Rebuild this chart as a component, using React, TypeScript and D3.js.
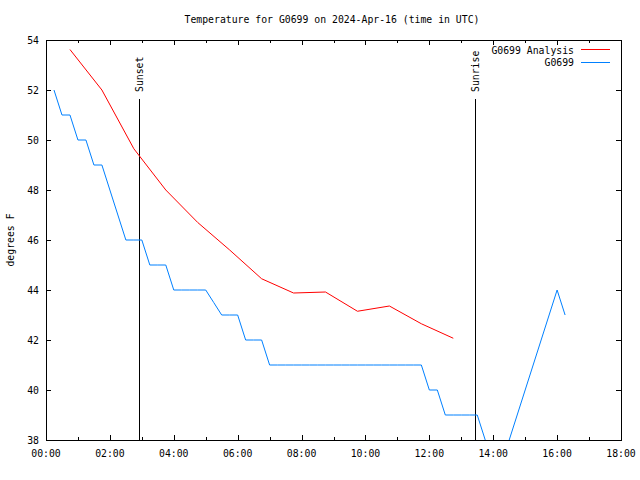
import React from "react";
import * as d3 from "d3";

const TITLE = "Temperature for G0699 on 2024-Apr-16 (time in UTC)";
const Y_LABEL = "degrees F";
const SERIES_NAMES = ["G0699 Analysis", "G0699"];

// hours (UTC) and °F
const analysisHours = [0.75, 1.75, 2.75, 3.75, 4.75, 5.75, 6.75, 7.75, 8.75, 9.75, 10.75, 11.75, 12.75];
const analysisTemps = [53.62, 52.0, 49.65, 48.0, 46.7, 45.6, 44.45, 43.88, 43.92, 43.15, 43.36, 42.65, 42.07];

const obsHours = [0.25, 0.5, 0.75, 1.0, 1.25, 1.5, 1.75, 2.0, 2.25, 2.5, 2.75, 3.0, 3.25, 3.5, 3.75, 4.0, 4.25, 4.5, 4.75, 5.0, 5.25, 5.5, 5.75, 6.0, 6.25, 6.5, 6.75, 7.0, 7.25, 7.5, 7.75, 8.0, 8.25, 8.5, 8.75, 9.0, 9.25, 9.5, 9.75, 10.0, 10.25, 10.5, 10.75, 11.0, 11.25, 11.5, 11.75, 12.0, 12.25, 12.5, 12.75, 13.0, 13.25, 13.5, 13.75, 14.0, 14.25, 14.5, 16.0, 16.25];
const obsTemps = [52, 51, 51, 50, 50, 49, 49, 48, 47, 46, 46, 46, 45, 45, 45, 44, 44, 44, 44, 44, 43.5, 43, 43, 43, 42, 42, 42, 41, 41, 41, 41, 41, 41, 41, 41, 41, 41, 41, 41, 41, 41, 41, 41, 41, 41, 41, 41, 40, 40, 39, 39, 39, 39, 39, 38, 37, 37, 38, 44, 43];

const sunEvents = [
  { label: "Sunset", hour: 2.92 },
  { label: "Sunrise", hour: 13.43 },
];

const xTicks = [0, 2, 4, 6, 8, 10, 12, 14, 16, 18];
const xMinorTicks = [1, 3, 5, 7, 9, 11, 13, 15, 17];
const yTicks = [38, 40, 42, 44, 46, 48, 50, 52, 54];

const W = 640;
const H = 480;
const M = { left: 46, top: 40, right: 621, bottom: 440 };
const FONT = "'DejaVu Sans Mono', 'Liberation Mono', monospace";
const FS = 9.8;

export default function App() {
  const x = d3.scaleLinear().domain([0, 18]).range([M.left, M.right]);
  const y = d3.scaleLinear().domain([38, 54]).range([M.bottom, M.top]);

  const line = d3
    .line<[number, number]>()
    .x((d) => x(d[0]))
    .y((d) => y(d[1]));

  const analysis = analysisHours.map((h, i) => [h, analysisTemps[i]] as [number, number]);
  const obs = obsHours.map((h, i) => [h, obsTemps[i]] as [number, number]);

  const fmt = (h: number) => String(h).padStart(2, "0") + ":00";

  return (
    <div style={{ position: "absolute", left: 0, top: 0 }}>
      <svg width={W} height={H} style={{ display: "block", background: "#fff" }} fontFamily={FONT} fontSize={FS}>
        <defs>
          <clipPath id="plot">
            <rect x={M.left} y={M.top} width={M.right - M.left} height={M.bottom - M.top} />
          </clipPath>
        </defs>
        <text x={332} y={23} textAnchor="middle">{TITLE}</text>

        {/* ticks */}
        <g stroke="#000" strokeWidth={1} shapeRendering="crispEdges">
          {xTicks.map((t) => (
            <g key={"x" + t}>
              <line x1={x(t) + 0.5} x2={x(t) + 0.5} y1={M.bottom} y2={M.bottom - 5} />
              <line x1={x(t) + 0.5} x2={x(t) + 0.5} y1={M.top} y2={M.top + 5} />
            </g>
          ))}
          {xMinorTicks.map((t) => (
            <g key={"xm" + t}>
              <line x1={x(t) + 0.5} x2={x(t) + 0.5} y1={M.bottom} y2={M.bottom - 3} />
              <line x1={x(t) + 0.5} x2={x(t) + 0.5} y1={M.top} y2={M.top + 3} />
            </g>
          ))}
          {yTicks.map((t) => (
            <g key={"y" + t}>
              <line x1={M.left} x2={M.left + 5} y1={y(t) + 0.5} y2={y(t) + 0.5} />
              <line x1={M.right} x2={M.right - 5} y1={y(t) + 0.5} y2={y(t) + 0.5} />
            </g>
          ))}
        </g>

        {xTicks.map((t) => (
          <text key={"xl" + t} x={x(t)} y={M.bottom + 17} textAnchor="middle">{fmt(t)}</text>
        ))}
        {yTicks.map((t) => (
          <text key={"yl" + t} x={39} y={y(t) + 3.5} textAnchor="end">{t}</text>
        ))}
        <text transform={`translate(14,${(M.top + M.bottom) / 2}) rotate(-90)`} textAnchor="middle">{Y_LABEL}</text>

        {/* sun events */}
        {sunEvents.map((s) => (
          <g key={s.label}>
            <line x1={Math.round(x(s.hour)) + 0.5} x2={Math.round(x(s.hour)) + 0.5} y1={99} y2={M.bottom} stroke="#000" shapeRendering="crispEdges" />
            <text transform={`translate(${Math.round(x(s.hour)) + 4},92) rotate(-90)`} textAnchor="start">{s.label}</text>
          </g>
        ))}

        <g clipPath="url(#plot)" fill="none" strokeWidth={1}>
          <path d={line(analysis) || ""} stroke="#ff0000" />
          <path d={line(obs) || ""} stroke="#0080ff" />
        </g>

        {/* legend */}
        <text x={574} y={53.5} textAnchor="end">{SERIES_NAMES[0]}</text>
        <line x1={581} x2={610} y1={49.5} y2={49.5} stroke="#ff0000" shapeRendering="crispEdges" />
        <text x={574} y={66} textAnchor="end">{SERIES_NAMES[1]}</text>
        <line x1={581} x2={610} y1={62.5} y2={62.5} stroke="#0080ff" shapeRendering="crispEdges" />

        <rect x={M.left + 0.5} y={M.top + 0.5} width={M.right - M.left} height={M.bottom - M.top} fill="none" stroke="#000" shapeRendering="crispEdges" />
      </svg>
    </div>
  );
}
